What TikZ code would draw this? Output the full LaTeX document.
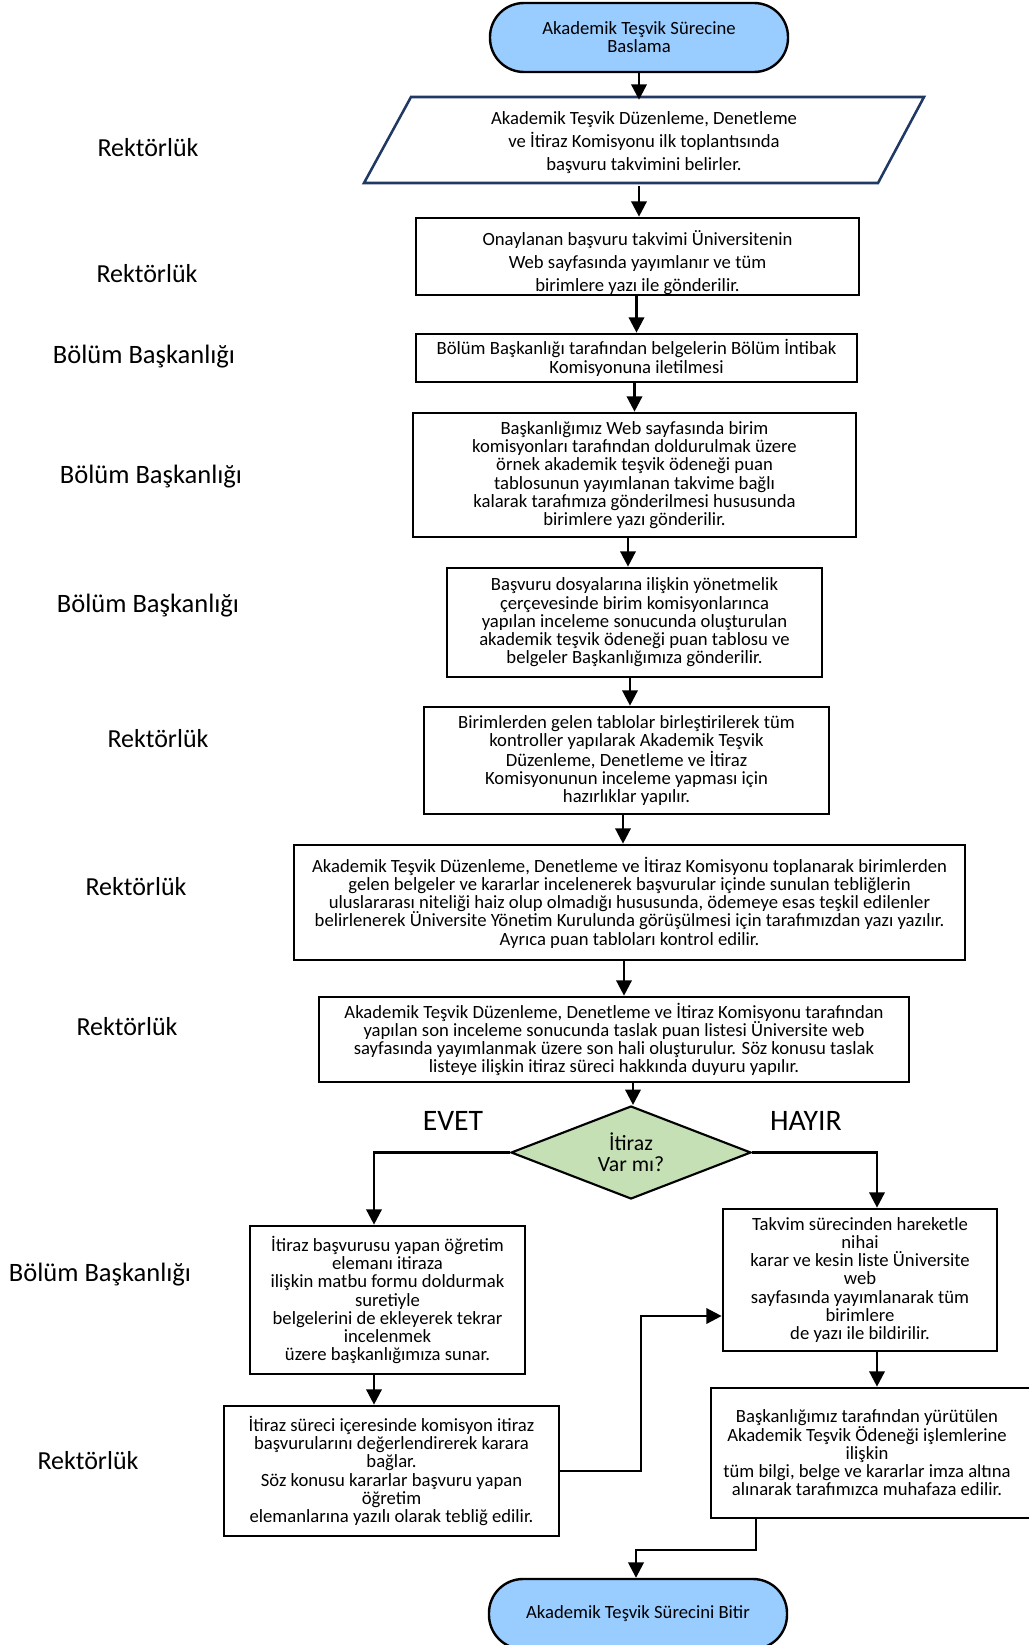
\documentclass[tikz,border=0pt]{standalone}
\usepackage{fontspec}
\setmainfont{Carlito}
\usetikzlibrary{arrows.meta,shapes.geometric,calc}
\definecolor{termblue}{HTML}{99CCFF}
\definecolor{decgreen}{HTML}{C5E0B4}
\definecolor{paraedge}{HTML}{203864}
\tikzset{
  sz/.style 2 args={minimum width={#1*0.75pt}, minimum height={#2*0.75pt}},
  box/.style={draw=black, line width=2pt, fill=white, inner sep=0pt, align=center, font=\fontsize{14}{13.7}\selectfont},
  txt/.style={inner sep=0pt, align=center, font=\fontsize{14}{13.7}\selectfont},
  term/.style={draw=black, line width=1.8pt, fill=termblue, rounded corners=25.5pt, inner sep=0pt, align=center, font=\fontsize{14}{13.4}\selectfont},
  decision/.style={diamond, draw=black, line width=1.6pt, fill=decgreen, inner sep=0pt, aspect=2.58, align=center, font=\fontsize{16.3}{15.75}\selectfont},
  conn/.style={line width=1.9pt, -{Triangle[length=11.5pt,width=11.5pt]}},
  lane/.style={inner sep=0pt, font=\fontsize{19.5}{22}\selectfont},
  lanewide/.style={inner sep=0pt, font=\fontsize{19.9}{22}\selectfont},
  yesno/.style={inner sep=0pt, font=\fontsize{22.3}{24}\selectfont},
}
\begin{document}
\begin{tikzpicture}[x=0.75pt,y=-0.75pt]
\useasboundingbox (0,0) rectangle (1028,1645);
\fill[white] (0,0) rectangle (1028,1645);

% lane labels
\node[lane] (l1) at (148,148) {Rektörlük};
\node[lane] (l2) at (147,274) {Rektörlük};
\node[lanewide] (l3) at (144,357) {Bölüm Başkanlığı};
\node[lanewide] (l4) at (151,477) {Bölüm Başkanlığı};
\node[lanewide] (l5) at (148,606) {Bölüm Başkanlığı};
\node[lane] (l6) at (158,739) {Rektörlük};
\node[lane] (l7) at (136,887) {Rektörlük};
\node[lane] (l8) at (127,1027) {Rektörlük};
\node[lanewide] (l9) at (100,1275) {Bölüm Başkanlığı};
\node[lane] (l10) at (88,1461) {Rektörlük};

% start
\node[term, sz={298}{69}] (start) at (639,37.5) {Akademik Teşvik Sürecine\\Baslama};

% parallelogram
\draw[paraedge, line width=1.9pt, fill=white] (411,97) -- (924,97) -- (878,183) -- (364,183) -- cycle;
\node[txt, sz={513}{86}, font=\fontsize{14}{17.25}\selectfont] (para) at (644,143) {Akademik Teşvik Düzenleme, Denetleme\\ve İtiraz Komisyonu ilk toplantısında\\başvuru takvimini belirler.};

% box 2 (text clipped at the bottom)
\node[box, sz={443}{77}] (b2) at (637.5,256.5) {};
\begin{scope}
\clip ($(b2.south west)+(1.5,-1.5)$) rectangle ($(b2.north east)+(-1.5,1.5)$);
\node[txt, font=\fontsize{14}{17.25}\selectfont] (b2t) at (637.5,262.5) {Onaylanan başvuru takvimi Üniversitenin\\Web sayfasında yayımlanır ve tüm\\birimlere yazı ile gönderilir.};
\end{scope}

\node[box, sz={441}{48}, font=\fontsize{14}{14.25}\selectfont] (b3) at (636.5,358) {Bölüm Başkanlığı tarafından belgelerin Bölüm İntibak\\Komisyonuna iletilmesi};

\node[box, sz={443}{124}] (b4) at (634.5,475) {Başkanlığımız Web sayfasında birim\\komisyonları tarafından doldurulmak üzere\\örnek akademik teşvik ödeneği puan\\tablosunun yayımlanan takvime bağlı\\kalarak tarafımıza gönderilmesi hususunda\\birimlere yazı gönderilir.};

\node[box, sz={375}{109}] (b5) at (634.5,622.5) {Başvuru dosyalarına ilişkin yönetmelik\\çerçevesinde birim komisyonlarınca\\yapılan inceleme sonucunda oluşturulan\\akademik teşvik ödeneği puan tablosu ve\\belgeler Başkanlığımıza gönderilir.};

\node[box, sz={405}{107}] (b6) at (626.5,760.5) {Birimlerden gelen tablolar birleştirilerek tüm\\kontroller yapılarak Akademik Teşvik\\Düzenleme, Denetleme ve İtiraz\\Komisyonunun inceleme yapması için\\hazırlıklar yapılır.};

\node[box, sz={671}{115}] (b7) at (629.5,902.5) {Akademik Teşvik Düzenleme, Denetleme ve İtiraz Komisyonu toplanarak birimlerden\\gelen belgeler ve kararlar incelenerek başvurular içinde sunulan tebliğlerin\\uluslararası niteliği haiz olup olmadığı hususunda, ödemeye esas teşkil edilenler\\belirlenerek Üniversite Yönetim Kurulunda görüşülmesi için tarafımızdan yazı yazılır.\\Ayrıca puan tabloları kontrol edilir.};

\node[box, sz={590}{85}] (b8) at (614,1039.5) {Akademik Teşvik Düzenleme, Denetleme ve İtiraz Komisyonu tarafından\\yapılan son inceleme sonucunda taslak puan listesi Üniversite web\\sayfasında yayımlanmak üzere son hali oluşturulur. Söz konusu taslak\\listeye ilişkin itiraz süreci hakkında duyuru yapılır.};

\node[decision, sz={240}{93}] (dec) at (631,1152.5) {İtiraz\\Var mı?};
\node[yesno] (evet) at (453,1121) {EVET};
\node[yesno] (hayir) at (806,1121) {HAYIR};

\node[box, sz={275}{148}] (lb) at (387.5,1300) {İtiraz başvurusu yapan öğretim\\elemanı itiraza\\ilişkin matbu formu doldurmak\\suretiyle\\belgelerini de ekleyerek tekrar\\incelenmek\\üzere başkanlığımıza sunar.};

\node[box, sz={274}{142}] (rb) at (860,1280) {Takvim sürecinden hareketle\\nihai\\karar ve kesin liste Üniversite\\web\\sayfasında yayımlanarak tüm\\birimlere\\de yazı ile bildirilir.};

\node[box, sz={335}{130}] (lbb) at (391.5,1471) {İtiraz süreci içeresinde komisyon itiraz\\başvurularını değerlendirerek karara\\bağlar.\\Söz konusu kararlar başvuru yapan\\öğretim\\elemanlarına yazılı olarak tebliğ edilir.};

\node[box, sz={329}{130}] (rbb) at (875.5,1453) {};
\node[txt] (rbbt) at (867,1453) {Başkanlığımız tarafından yürütülen\\Akademik Teşvik Ödeneği işlemlerine\\ilişkin\\tüm bilgi, belge ve kararlar imza altına\\alınarak tarafımızca muhafaza edilir.};

\node[term, sz={298}{70}] (end) at (638,1614) {Akademik Teşvik Sürecini Bitir};

% connector helper points
\coordinate (c4) at (628,537);
\coordinate (c5) at (630,677);
\coordinate (c6) at (623,814);
\coordinate (c7) at (624,960);
\coordinate (c8) at (633,1082);
\coordinate (cl) at (374,1152.5);
\coordinate (cr) at (877,1152.5);
\coordinate (cj) at (641,1316);
\coordinate (cb) at (756,1550);
\coordinate (ce) at (636,1550);

% connectors
\draw[conn] (start.south) -- (start.south |- para.north);
\draw[conn] (para.south -| start.south) -- (start.south |- b2.north);
\draw[conn] (b2.south -| b3.north) -- (b3.north);
\draw[conn] (b3.south -| b4.north) -- (b4.north);
\draw[conn] (c4) -- (c4 |- b5.north);
\draw[conn] (c5) -- (c5 |- b6.north);
\draw[conn] (c6) -- (c6 |- b7.north);
\draw[conn] (c7) -- (c7 |- b8.north);
\draw[conn] (c8) -- (c8 |- dec.north);
\draw[conn] (dec.west) -- (cl) -- (cl |- lb.north);
\draw[conn] (dec.east) -- (cr) -- (cr |- rb.north);
\draw[conn] (cl |- lb.south) -- (cl |- lbb.north);
\draw[conn] (cr |- rb.south) -- (cr |- rbb.north);
\draw[conn] (lbb.east) -- (lbb.east -| cj) -- (cj) -- (cj -| rb.west);
\draw[conn] (cb |- rbb.south) -- (cb) -- (ce) -- (ce |- end.north);
\end{tikzpicture}
\end{document}
